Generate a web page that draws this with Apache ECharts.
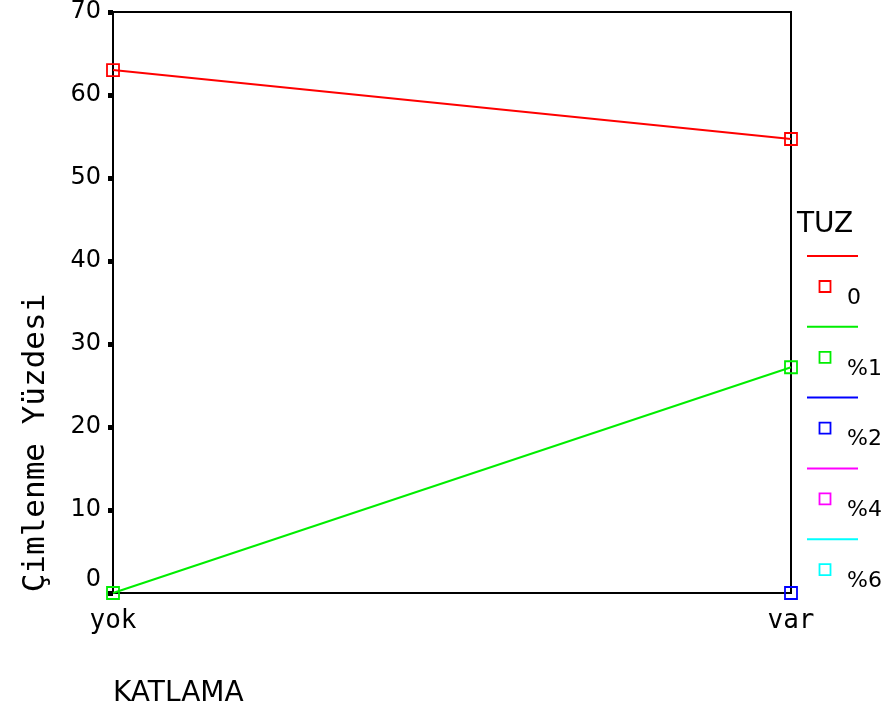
<!DOCTYPE html>
<html><head><meta charset="utf-8">
<script src="https://cdn.jsdelivr.net/npm/echarts@6/dist/echarts.min.js"></script>
<style>html,body{margin:0;padding:0;background:#fff}#c{width:883px;height:717px}</style>
</head><body><div id="c"></div>
<script>
const categories = ['yok', 'var'];
const seriesNames = ['0', '%1', '%2', '%4', '%6'];
const seriesColors = ['#ff0000', '#00ee00', '#0000ff', '#ff00ff', '#00ffff'];
const values0 = [63.0, 54.7];
const values1 = [0, 27.2];
const values2 = [null, 0];
const values4 = [null, null];
const values6 = [null, null];
const yTicks = [0, 10, 20, 30, 40, 50, 60, 70];
const allValues = [values0, values1, values2, values4, values6];

const chart = echarts.init(document.getElementById('c'));
const series = seriesNames.map((n, i) => ({
  name: n, type: 'line', data: allValues[i],
  symbol: 'rect', symbolSize: 12, showSymbol: true,
  lineStyle: { color: seriesColors[i], width: 2 },
  itemStyle: { color: 'rgba(0,0,0,0)', borderColor: seriesColors[i], borderWidth: 1.8 },
  emphasis: { disabled: true }, animation: false, z: 3
}));

const legendGraphics = [{
  type: 'text', left: 797, top: 211,
  style: { text: 'TUZ', font: '28px "DejaVu Sans"', fill: '#000' }
}];
seriesNames.forEach((n, i) => {
  const y0 = 256 + i * 70.8;
  legendGraphics.push({ type: 'line', shape: { x1: 807, y1: y0, x2: 858, y2: y0 }, style: { stroke: seriesColors[i], lineWidth: 2 } });
  legendGraphics.push({ type: 'rect', shape: { x: 819.5, y: y0 + 25, width: 11, height: 11 }, style: { fill: 'none', stroke: seriesColors[i], lineWidth: 1.8 } });
  legendGraphics.push({ type: 'text', left: 847, top: y0 + 31, style: { text: n, font: '22px "DejaVu Sans"', fill: '#000' } });
});
legendGraphics.push({ type: 'text', x: 20, y: 443, rotation: Math.PI / 2, style: { text: 'Çimlenme Yüzdesi', font: '31px "DejaVu Sans Mono"', fill: '#000', align: 'center', verticalAlign: 'top' } });
legendGraphics.push({ type: 'text', left: 113, top: 680, style: { text: 'KATLAMA', font: '28px "DejaVu Sans"', fill: '#000' } });

chart.setOption({
  animation: false,
  grid: { left: 113, top: 12, right: 92, bottom: 124, show: true, borderColor: '#000', borderWidth: 2, backgroundColor: 'transparent' },
  xAxis: {
    type: 'category', data: categories, boundaryGap: false,
    axisLine: { lineStyle: { color: '#000', width: 2 } },
    axisTick: { show: false },
    axisLabel: { color: '#000', fontFamily: 'DejaVu Sans Mono', fontSize: 26, margin: 15 },
    splitLine: { show: false }
  },
  yAxis: {
    type: 'value', min: 0, max: 70, interval: 10,
    axisLine: { show: true, lineStyle: { color: '#000', width: 2 } },
    axisTick: { show: true, length: 5, lineStyle: { color: '#000', width: 5 } },
    axisLabel: {
      color: '#000', fontFamily: 'DejaVu Sans', fontSize: 24, margin: 12,
      formatter: v => (yTicks.indexOf(v) >= 0 ? (v === 0 ? '{z|0}' : String(v)) : ''),
      rich: { z: { fontFamily: 'DejaVu Sans', fontSize: 24, color: '#000', padding: [0, 0, 26, 0] } }
    },
    splitLine: { show: false }
  },
  series: series,
  graphic: legendGraphics
});
</script></body></html>
